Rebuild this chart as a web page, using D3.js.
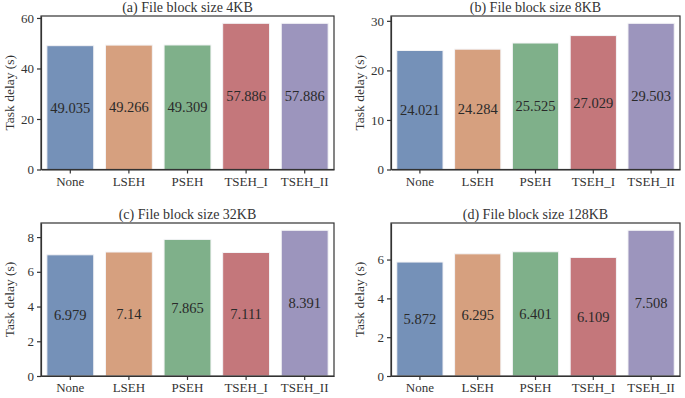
<!DOCTYPE html>
<html lang="en">
<head>
  <meta charset="UTF-8" />
  <title>Task delay by file block size</title>
  <script src="https://d3js.org/d3.v7.min.js"></script>
  <style>
    body {
      margin: 0;
      background: white;
    }
    svg {
      display: block;
      font-family: "Liberation Serif", "Times New Roman", serif;
    }
    .axis path, .axis line {
      stroke: #333;
      stroke-width: 1.2;
    }
    .axis text {
      fill: #333;
    }
  </style>
</head>
<body>
  <svg width="685" height="398"></svg>
  <script>
    const methods = ["None", "LSEH", "PSEH", "TSEH_I", "TSEH_II"];
    const colors = ["#7591b8", "#d6a07f", "#7fb08a", "#c4777b", "#9c95bd"];

    const titles = [
      "(a) File block size 4KB",
      "(b) File block size 8KB",
      "(c) File block size 32KB",
      "(d) File block size 128KB"
    ];
    const delay4KB   = [49.035, 49.266, 49.309, 57.886, 57.886];
    const delay8KB   = [24.021, 24.284, 25.525, 27.029, 29.503];
    const delay32KB  = [6.979, 7.14, 7.865, 7.111, 8.391];
    const delay128KB = [5.872, 6.295, 6.401, 6.109, 7.508];
    const yTicks = [
      [0, 20, 40, 60],
      [0, 10, 20, 30],
      [0, 2, 4, 6, 8],
      [0, 2, 4, 6]
    ];

    const svg = d3.select("svg");

    // plot area of each panel: left, top, right, bottom
    const boxes = [
      { x0: 41, y0: 16, x1: 334, y1: 169.5 },
      { x0: 391, y0: 16, x1: 680, y1: 169.5 },
      { x0: 41, y0: 223, x1: 334, y1: 376 },
      { x0: 391, y0: 223, x1: 680, y1: 376 }
    ];
    const series = [delay4KB, delay8KB, delay32KB, delay128KB];

    series.forEach((vals, i) => drawPanel(boxes[i], vals, titles[i], yTicks[i]));

    function drawPanel(b, vals, title, ticks) {
      const g = svg.append("g");

      const x = d3.scaleBand()
        .domain(methods)
        .range([b.x0, b.x1])
        .paddingInner(0.2)
        .paddingOuter(0.1);

      // matplotlib style 5% top margin
      const y = d3.scaleLinear()
        .domain([0, d3.max(vals) * 1.05])
        .range([b.y1, b.y0]);

      const data = methods.map((m, k) => ({ m: m, v: vals[k], c: colors[k] }));

      g.selectAll("rect.bar")
        .data(data)
        .enter()
        .append("rect")
        .attr("class", "bar")
        .attr("x", d => x(d.m))
        .attr("width", x.bandwidth())
        .attr("y", d => y(d.v))
        .attr("height", d => y(0) - y(d.v))
        .attr("fill", d => d.c)
        .attr("stroke", "#f4f4f6")
        .attr("stroke-width", 1);

      // value labels sit in the middle of each bar
      g.selectAll("text.val")
        .data(data)
        .enter()
        .append("text")
        .attr("class", "val")
        .attr("x", d => x(d.m) + x.bandwidth() / 2)
        .attr("y", d => y(d.v / 2))
        .attr("dy", "0.35em")
        .attr("text-anchor", "middle")
        .attr("font-size", 14.5)
        .attr("fill", "#2a2a2a")
        .text(d => d.v);

      g.append("g")
        .attr("class", "axis")
        .attr("transform", `translate(0,${b.y1})`)
        .call(d3.axisBottom(x).tickSize(4).tickPadding(3).tickSizeOuter(0))
        .attr("font-family", null)
        .attr("font-size", 13);

      g.append("g")
        .attr("class", "axis")
        .attr("transform", `translate(${b.x0},0)`)
        .call(d3.axisLeft(y).tickValues(ticks).tickFormat(d3.format("d")).tickSize(4).tickPadding(3).tickSizeOuter(0))
        .attr("font-family", null)
        .attr("font-size", 13);

      // frame on all four sides
      g.append("rect")
        .attr("x", b.x0)
        .attr("y", b.y0)
        .attr("width", b.x1 - b.x0)
        .attr("height", b.y1 - b.y0)
        .attr("fill", "none")
        .attr("stroke", "#333")
        .attr("stroke-width", 1.2);

      g.append("text")
        .attr("x", (b.x0 + b.x1) / 2)
        .attr("y", b.y0 - 4)
        .attr("text-anchor", "middle")
        .attr("font-size", 14)
        .attr("fill", "#333")
        .text(title);

      g.append("text")
        .attr("transform", `translate(${b.x0 - 27},${(b.y0 + b.y1) / 2}) rotate(-90)`)
        .attr("text-anchor", "middle")
        .attr("font-size", 13.5)
        .attr("fill", "#333")
        .text("Task delay (s)");
    }
  </script>
</body>
</html>
